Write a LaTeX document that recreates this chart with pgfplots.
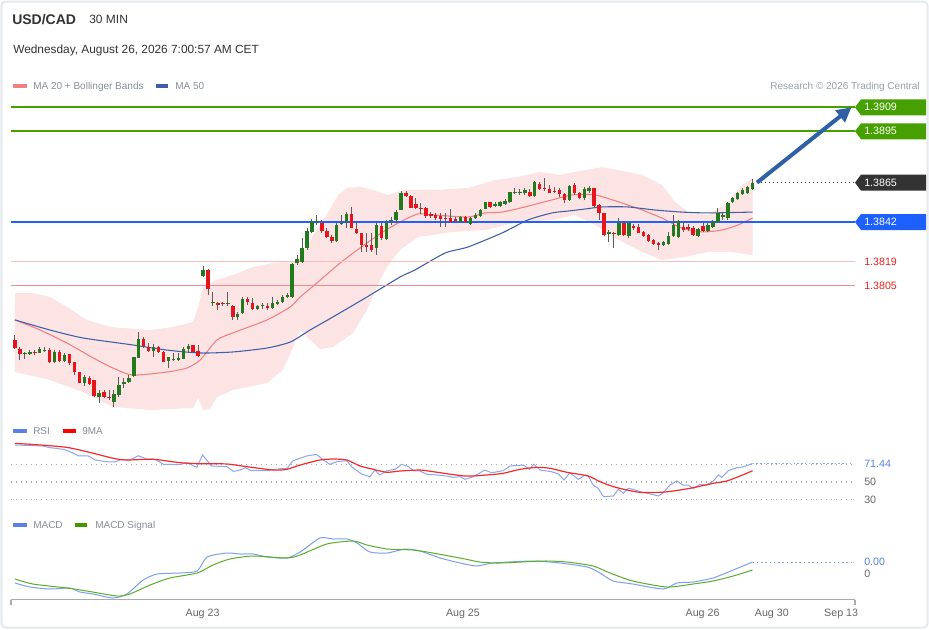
\documentclass[border=0pt]{standalone}
\usepackage{pgfplots}
\pgfplotsset{compat=1.18}
\usepackage{pgfplotstable}
\usepackage{fontspec}
\setmainfont{Liberation Sans}
\usetikzlibrary{arrows.meta}

\definecolor{hdr}{HTML}{333333}
\definecolor{leg}{HTML}{858E98}
\definecolor{bordergray}{HTML}{E6EAED}
\definecolor{bandpink}{HTML}{FDE4E4}
\definecolor{ma20c}{HTML}{F28080}
\definecolor{ma50c}{HTML}{3D5FA8}
\definecolor{lvgreen}{HTML}{46A000}
\definecolor{lvblue}{HTML}{1E5FFF}
\definecolor{lvred}{HTML}{E82020}
\definecolor{lvdark}{HTML}{333333}
\definecolor{arrowblue}{HTML}{2F60A6}
\definecolor{cgreen}{HTML}{217A1C}
\definecolor{cred}{HTML}{E5161B}
\definecolor{wick}{HTML}{5E5A5A}
\definecolor{rsic}{HTML}{8CA6F0}
\definecolor{rsileg}{HTML}{5B80E6}
\definecolor{ninema}{HTML}{F52A2A}
\definecolor{macdc}{HTML}{7E9EF0}
\definecolor{sigc}{HTML}{5AAE28}
\definecolor{sigleg}{HTML}{3F9A00}
\definecolor{dotgray}{HTML}{AAAAAA}
\definecolor{axgray}{HTML}{AAAAAA}
\definecolor{ticktxt}{HTML}{666666}

% candles: i open high low close (rising candles)
\pgfplotstableread{
i o h l c
2 1.37649 1.37661 1.37620 1.37655
3 1.37649 1.37672 1.37643 1.37661
5 1.37655 1.37690 1.37655 1.37678
6 1.37667 1.37690 1.37661 1.37672
8 1.37602 1.37672 1.37597 1.37661
10 1.37608 1.37655 1.37602 1.37643
14 1.37480 1.37526 1.37462 1.37515
17 1.37398 1.37439 1.37363 1.37421
20 1.37369 1.37439 1.37340 1.37415
21 1.37410 1.37515 1.37398 1.37468
22 1.37474 1.37509 1.37451 1.37486
23 1.37486 1.37526 1.37480 1.37509
24 1.37521 1.37632 1.37515 1.37632
25 1.37626 1.37778 1.37626 1.37737
28 1.37667 1.37708 1.37632 1.37690
31 1.37608 1.37632 1.37567 1.37632
32 1.37614 1.37655 1.37608 1.37620
33 1.37614 1.37655 1.37608 1.37626
34 1.37620 1.37690 1.37620 1.37678
35 1.37678 1.37708 1.37655 1.37696
38 1.38105 1.38163 1.38099 1.38140
40 1.37947 1.38011 1.37930 1.37953
43 1.37941 1.38011 1.37930 1.37947
45 1.37865 1.37894 1.37848 1.37883
46 1.37889 1.37982 1.37883 1.37970
49 1.37912 1.37935 1.37906 1.37930
50 1.37930 1.37947 1.37912 1.37935
52 1.37918 1.37982 1.37912 1.37947
53 1.37941 1.37965 1.37935 1.37953
54 1.37953 1.37994 1.37947 1.37982
55 1.37982 1.38005 1.37976 1.37994
56 1.37982 1.38181 1.37976 1.38175
57 1.38181 1.38227 1.38169 1.38204
58 1.38186 1.38327 1.38181 1.38268
59 1.38268 1.38385 1.38257 1.38367
60 1.38362 1.38438 1.38356 1.38420
61 1.38420 1.38461 1.38403 1.38426
65 1.38309 1.38414 1.38303 1.38403
66 1.38408 1.38461 1.38403 1.38414
67 1.38420 1.38478 1.38385 1.38467
73 1.38268 1.38414 1.38227 1.38403
75 1.38321 1.38432 1.38315 1.38414
76 1.38426 1.38449 1.38403 1.38432
77 1.38432 1.38490 1.38414 1.38478
78 1.38490 1.38601 1.38490 1.38589
90 1.38420 1.38455 1.38414 1.38449
92 1.38408 1.38449 1.38403 1.38443
93 1.38443 1.38473 1.38438 1.38461
94 1.38455 1.38496 1.38449 1.38490
95 1.38496 1.38537 1.38496 1.38537
97 1.38514 1.38537 1.38508 1.38525
98 1.38514 1.38543 1.38508 1.38537
99 1.38525 1.38554 1.38519 1.38543
100 1.38537 1.38595 1.38531 1.38595
101 1.38589 1.38619 1.38584 1.38595
102 1.38589 1.38613 1.38578 1.38595
103 1.38589 1.38619 1.38578 1.38607
105 1.38572 1.38660 1.38566 1.38654
112 1.38549 1.38636 1.38543 1.38630
115 1.38560 1.38625 1.38549 1.38613
116 1.38601 1.38630 1.38589 1.38619
120 1.38350 1.38373 1.38303 1.38362
122 1.38344 1.38443 1.38338 1.38414
124 1.38338 1.38420 1.38327 1.38414
131 1.38286 1.38309 1.38280 1.38303
132 1.38292 1.38362 1.38286 1.38338
133 1.38338 1.38461 1.38332 1.38403
134 1.38332 1.38432 1.38327 1.38426
138 1.38338 1.38385 1.38332 1.38379
140 1.38367 1.38414 1.38362 1.38403
141 1.38391 1.38432 1.38385 1.38420
142 1.38420 1.38502 1.38420 1.38473
143 1.38449 1.38473 1.38432 1.38461
144 1.38443 1.38537 1.38432 1.38531
145 1.38537 1.38566 1.38531 1.38560
146 1.38554 1.38595 1.38549 1.38589
147 1.38584 1.38619 1.38578 1.38607
148 1.38589 1.38630 1.38584 1.38625
149 1.38613 1.38671 1.38607 1.38648
}\upcandles

% falling candles
\pgfplotstableread{
i o h l c
0 1.37731 1.37760 1.37678 1.37684
1 1.37678 1.37690 1.37614 1.37649
4 1.37661 1.37672 1.37643 1.37655
7 1.37672 1.37684 1.37597 1.37602
9 1.37661 1.37672 1.37602 1.37608
11 1.37649 1.37649 1.37585 1.37597
12 1.37602 1.37602 1.37526 1.37544
13 1.37544 1.37544 1.37480 1.37480
15 1.37509 1.37521 1.37468 1.37474
16 1.37497 1.37497 1.37398 1.37404
18 1.37427 1.37439 1.37392 1.37398
19 1.37398 1.37439 1.37380 1.37392
26 1.37737 1.37748 1.37684 1.37696
27 1.37690 1.37713 1.37661 1.37667
29 1.37690 1.37696 1.37655 1.37661
30 1.37661 1.37667 1.37602 1.37602
36 1.37702 1.37702 1.37655 1.37661
37 1.37667 1.37702 1.37632 1.37637
39 1.38140 1.38146 1.37994 1.38029
41 1.37947 1.37953 1.37906 1.37935
42 1.37947 1.37953 1.37930 1.37941
44 1.37930 1.37935 1.37848 1.37865
47 1.37970 1.37982 1.37935 1.37953
48 1.37947 1.37976 1.37906 1.37912
51 1.37930 1.37947 1.37906 1.37918
62 1.38414 1.38432 1.38356 1.38367
63 1.38367 1.38385 1.38327 1.38332
64 1.38332 1.38344 1.38297 1.38309
68 1.38467 1.38508 1.38385 1.38385
69 1.38379 1.38420 1.38350 1.38356
70 1.38356 1.38356 1.38245 1.38286
71 1.38286 1.38356 1.38245 1.38274
72 1.38286 1.38356 1.38245 1.38257
74 1.38397 1.38414 1.38315 1.38327
79 1.38589 1.38601 1.38566 1.38572
80 1.38572 1.38578 1.38502 1.38502
81 1.38525 1.38560 1.38496 1.38502
82 1.38502 1.38531 1.38467 1.38496
83 1.38502 1.38508 1.38443 1.38455
84 1.38467 1.38478 1.38443 1.38455
85 1.38461 1.38473 1.38432 1.38443
86 1.38455 1.38473 1.38391 1.38438
87 1.38443 1.38473 1.38391 1.38438
88 1.38443 1.38496 1.38414 1.38420
89 1.38438 1.38449 1.38420 1.38426
91 1.38449 1.38455 1.38414 1.38420
96 1.38537 1.38537 1.38502 1.38508
104 1.38595 1.38613 1.38566 1.38572
106 1.38642 1.38654 1.38607 1.38613
107 1.38619 1.38677 1.38601 1.38613
108 1.38613 1.38636 1.38589 1.38589
109 1.38601 1.38625 1.38589 1.38595
110 1.38607 1.38619 1.38566 1.38584
111 1.38584 1.38589 1.38531 1.38549
113 1.38636 1.38648 1.38578 1.38589
114 1.38589 1.38595 1.38554 1.38560
117 1.38619 1.38619 1.38508 1.38514
118 1.38519 1.38525 1.38432 1.38473
119 1.38473 1.38473 1.38338 1.38344
121 1.38356 1.38362 1.38268 1.38350
123 1.38414 1.38420 1.38338 1.38344
125 1.38397 1.38408 1.38373 1.38385
126 1.38391 1.38408 1.38356 1.38356
127 1.38362 1.38367 1.38332 1.38338
128 1.38344 1.38350 1.38303 1.38309
129 1.38315 1.38321 1.38286 1.38292
130 1.38297 1.38303 1.38257 1.38286
135 1.38391 1.38420 1.38362 1.38373
136 1.38391 1.38408 1.38367 1.38379
137 1.38385 1.38397 1.38338 1.38344
139 1.38397 1.38414 1.38362 1.38367
}\downcandles

\newcommand{\lbl}{\fontsize{8pt}{9.6pt}\selectfont}
\newcommand{\legf}{\fontsize{7.5pt}{9pt}\selectfont}
% #1 = position in pips above 1.3800, #2 = price text, #3 = colour
\newcommand{\pricebox}[3]{%
  \fill[#3] (axis cs:169.7,#1) -- ++(4.5pt,6pt) -- ++(48.75pt,0pt) -- ++(0pt,-12pt) -- ++(-48.75pt,0pt) -- cycle;
  \node[anchor=west, text=white, font=\lbl, inner sep=0pt] at ([xshift=6.75pt]axis cs:169.7,#1) {#2};%
}
\pgfplotsset{candle/.style 2 args={draw=none, mark=none, forget plot,
  error bars/.cd, y dir=plus, y explicit, error mark=none,
  error bar style={line width=#1, draw=#2, solid}}}

\begin{document}
\begin{tikzpicture}[x=0.75pt,y=-0.75pt]
\path[use as bounding box] (0,0) rectangle (929,629);
\fill[white] (0,0) rectangle (929,629);
\draw[bordergray, line width=1.5pt, rounded corners=3pt] (1.5,1.5) rectangle (927.5,627.5);

% ---------------- main price panel (plotted in pips above 1.3800) ----------------
\begin{axis}[at={(8.25pt,-311.25pt)}, anchor=south west, scale only axis,
  width=633pt, height=240pt,
  xmin=-0.808, xmax=169.7, ymin=-70.71, ymax=116.17,
  y filter/.expression={(y-1.38)*10000},
  hide axis, clip=false]

\addplot[fill=bandpink, draw=none] coordinates {
(0,1.38005) (3.6,1.38005) (7.1,1.37982) (10.5,1.37924) (14.5,1.37848) (19.2,1.37807)
(27.3,1.37789) (31.9,1.37807) (36.0,1.37836) (37.0,1.37924) (38.0,1.38040) (40.8,1.38081)
(44.0,1.38111) (48.1,1.38157) (52.1,1.38181) (54.1,1.38186) (56.6,1.38186) (58.6,1.38257)
(60.0,1.38332) (63.2,1.38473) (65.3,1.38578) (67.1,1.38619) (69.7,1.38625) (72.3,1.38607)
(75.2,1.38578) (78.8,1.38607) (84.8,1.38607) (91.5,1.38619) (97.0,1.38665) (101.6,1.38683)
(106.1,1.38712) (110.1,1.38695) (113.1,1.38712) (118.6,1.38741) (126.7,1.38695) (130.7,1.38636)
(133.3,1.38537) (136.0,1.38478) (140.0,1.38461) (143.4,1.38519) (146.9,1.38636) (149,1.38677)
(149,1.38227) (144.8,1.38245) (140.0,1.38245) (135.4,1.38216) (130.7,1.38198) (126.7,1.38245)
(121.2,1.38327) (117.2,1.38403) (113.1,1.38461) (108.5,1.38432) (101.6,1.38420) (94.9,1.38373)
(88.3,1.38362) (81.4,1.38332) (77.8,1.38257) (75.8,1.38186) (73.7,1.38081) (71.1,1.37906)
(68.3,1.37772) (64.2,1.37690) (61.6,1.37678) (59.6,1.37731) (57.6,1.37789) (56.2,1.37690)
(54.1,1.37556) (50.9,1.37480) (44.0,1.37439) (40.8,1.37398) (39.4,1.37328) (38.0,1.37322)
(37.0,1.37392) (36.0,1.37334) (27.3,1.37322) (19.8,1.37340) (13.7,1.37427) (7.1,1.37497)
(0,1.37544)} -- cycle;

% MA 20
\addplot[ma20c, line width=0.8pt, smooth, tension=0.4] coordinates {
(0,1.37848)(5.1,1.37789)(10.5,1.37713)(15.8,1.37626)(19.8,1.37567)(23.8,1.37526)(30.7,1.37544)
(34.7,1.37567)(37.4,1.37614)(40.8,1.37731)(44.0,1.37772)(50.9,1.37848)(55.6,1.37924)(57.6,1.37982)
(61.0,1.38064)(65.7,1.38181)(69.7,1.38268)(74.3,1.38362)(77.8,1.38420)(81.4,1.38467)(84.8,1.38461)
(91.5,1.38449)(94.9,1.38473)(98.4,1.38478)(103.0,1.38508)(108.5,1.38549)(112.5,1.38578)(117.2,1.38578)
(122.0,1.38537)(126.7,1.38490)(130.7,1.38443)(134.7,1.38385)(138.8,1.38362)(142.8,1.38373)
(146.1,1.38403)(149,1.38443)};
% MA 50
\addplot[ma50c, line width=0.8pt, smooth, tension=0.4] coordinates {
(0,1.37848)(7.1,1.37789)(13.7,1.37743)(23.8,1.37702)(30.7,1.37672)(37.4,1.37655)(44.0,1.37661)
(50.9,1.37684)(55.6,1.37719)(59.6,1.37789)(64.2,1.37865)(71.1,1.37982)(77.8,1.38099)(80.8,1.38140)
(86.9,1.38239)(91.5,1.38274)(98.4,1.38356)(103.6,1.38432)(108.5,1.38473)(111.7,1.38484)(115.2,1.38496)
(118.6,1.38508)(123.8,1.38508)(129.3,1.38490)(134.7,1.38478)(140.0,1.38473)(149,1.38478)};

% level lines (1.3819 and 1.3805 are pink support lines)
\draw[draw={rgb,255:red,248;green,190;blue,190}, line width=1.3pt] (axis cs:-0.808,19) -- (axis cs:169.7,19);
\draw[draw={rgb,255:red,242;green,140;blue,140}, line width=1.1pt] (axis cs:-0.808,5) -- (axis cs:169.7,5);
\addplot[color=lvblue, line width=1.3pt] coordinates {(-0.808,1.3842) (169.7,1.3842)};
\addplot[color=lvgreen, line width=1.5pt] coordinates {(-0.808,1.3895) (169.7,1.3895)};
\addplot[color=lvgreen, line width=1.5pt] coordinates {(-0.808,1.3909) (169.7,1.3909)};
\addplot[color=lvdark, line width=0.8pt, dash pattern=on 0.8pt off 2.2pt] coordinates {(149.9,1.3865) (169.7,1.3865)};

% wicks
\addplot[candle={0.75pt}{wick}]
  table[x=i, y=l, y error plus expr={(\thisrow{h}-\thisrow{l})*10000}] {\upcandles};
\addplot[candle={0.75pt}{wick}]
  table[x=i, y=l, y error plus expr={(\thisrow{h}-\thisrow{l})*10000}] {\downcandles};
% bodies
\addplot[candle={2.6pt}{cgreen}]
  table[x=i, y=o, y error plus expr={max((\thisrow{c}-\thisrow{o})*10000,0.5)}] {\upcandles};
\addplot[candle={2.6pt}{cred}]
  table[x=i, y=c, y error plus expr={max((\thisrow{o}-\thisrow{c})*10000,0.5)}] {\downcandles};

% target arrow (1.3865 -> 1.3909)
\draw[arrowblue, line width=3pt, -{Triangle[length=11pt, width=11pt]}]
  (axis cs:149.9,65) -- (axis cs:169.0,109);

% right-hand labels
\pricebox{109}{1.3909}{lvgreen}
\pricebox{95}{1.3895}{lvgreen}
\pricebox{65}{1.3865}{lvdark}
\pricebox{42}{1.3842}{lvblue}
\node[anchor=west, text=lvred, font=\lbl, inner sep=0pt] at ([xshift=6.75pt]axis cs:169.7,19) {1.3819};
\node[anchor=west, text=lvred, font=\lbl, inner sep=0pt] at ([xshift=6.75pt]axis cs:169.7,5) {1.3805};
\end{axis}

% ---------------- RSI panel ----------------
\begin{axis}[at={(8.25pt,-378.75pt)}, anchor=south west, scale only axis,
  width=633pt, height=50.25pt,
  xmin=-0.808, xmax=169.7, ymin=23.47, ymax=100.75,
  hide axis, clip=false]
\addplot[dotgray, line width=0.8pt, dash pattern=on 0.75pt off 3pt] coordinates {(-0.808,70) (169.29,70)};
\addplot[dotgray, line width=0.8pt, dash pattern=on 0.75pt off 3pt] coordinates {(-0.808,50) (169.29,50)};
\addplot[dotgray, line width=0.8pt, dash pattern=on 0.75pt off 3pt] coordinates {(-0.808,30) (169.29,30)};
\addplot[rsic, line width=0.7pt, dash pattern=on 1.2pt off 1.6pt] coordinates {(149,71.44) (169.29,71.44)};
\addplot[rsic, line width=0.75pt] coordinates {
(0,92.7)(5.7,91.5)(7.1,89.6)(9.8,87.7)(11.1,85.0)(12.8,80.3)(14.8,80.0)(16.2,75.4)(18.5,73.4)
(20.2,73.1)(21.2,75.4)(23.2,75.4)(24.9,80.3)(26.6,76.5)(28.3,76.2)(30.0,70.4)(33.3,70.0)(34.7,72.3)
(36.7,66.9)(37.9,81.1)(39.7,68.5)(42.8,67.7)(44.1,62.3)(45.5,63.8)(46.5,66.5)(47.8,63.0)(50.8,63.0)
(53.5,65.3)(54.9,65.3)(56.2,74.6)(58.9,80.0)(60.9,81.9)(62.3,75.4)(63.6,70.4)(65.0,73.4)(67.0,74.6)
(68.0,67.7)(70.0,59.2)(71.7,56.1)(72.7,63.8)(73.7,58.1)(75.1,63.0)(76.8,64.6)(78.1,70.4)(79.5,67.7)
(80.5,63.0)(81.8,62.7)(83.2,58.9)(85.2,58.1)(87.2,56.9)(88.5,55.4)(89.9,56.1)(90.9,53.1)(92.6,56.1)
(94.9,63.8)(96.3,60.7)(98.6,63.0)(100.0,68.5)(102.7,69.6)(103.9,64.6)(104.8,70.4)(106.1,63.8)
(108.4,61.9)(109.8,59.2)(110.9,52.3)(112.1,60.7)(113.8,53.1)(115.2,58.1)(115.8,56.9)(116.8,46.5)
(117.8,42.7)(118.9,33.0)(120.9,33.9)(121.9,41.6)(122.9,37.0)(123.9,42.7)(124.9,41.6)(126.3,38.8)
(128.3,36.2)(130.0,33.9)(131.0,37.7)(132.3,46.5)(133.7,51.2)(134.9,46.5)(136.0,46.5)(137.0,42.7)
(138.4,47.3)(139.7,46.5)(141.1,51.2)(142.1,58.1)(142.8,55.4)(144.1,63.0)(145.8,66.5)(147.1,67.3)
(149,71.44)};
\addplot[ninema, line width=0.9pt, smooth, tension=0.4] coordinates {
(0,94.6)(5.1,92.7)(10.4,90.0)(14.5,85.0)(19.9,77.3)(22.6,75.4)(27.9,76.2)(33.3,72.3)(37.4,71.1)
(42.8,70.8)(46.8,67.7)(52.2,63.8)(54.9,64.6)(57.6,69.6)(61.6,75.4)(64.3,76.5)(67.0,75.4)(69.7,68.5)
(72.4,64.6)(75.1,61.2)(77.8,62.7)(81.8,63.8)(84.5,61.9)(90.9,56.9)(95.3,58.1)(98.6,60.0)(102.0,64.6)
(105.4,66.9)(108.1,65.8)(111.5,61.2)(115.8,56.9)(118.2,50.3)(120.9,44.6)(123.6,40.8)(126.3,38.1)
(130.3,38.1)(133.0,39.6)(137.0,43.4)(141.1,48.5)(143.8,51.2)(146.5,56.9)(149,63.0)};
\node[anchor=west, text=rsileg, font=\lbl, inner sep=0pt] at ([xshift=6.75pt]axis cs:169.7,71.44) {71.44};
\node[anchor=west, text=ticktxt, font=\lbl, inner sep=0pt] at ([xshift=6.75pt]axis cs:169.7,50) {50};
\node[anchor=west, text=ticktxt, font=\lbl, inner sep=0pt] at ([xshift=6.75pt]axis cs:169.7,30) {30};
\end{axis}

% ---------------- MACD panel ----------------
\begin{axis}[at={(8.25pt,-449.625pt)}, anchor=south west, scale only axis,
  width=633pt, height=52.125pt,
  xmin=-0.808, xmax=169.7, ymin=-0.00051, ymax=0.00088,
  axis x line*=bottom, axis y line=none,
  x axis line style={draw=axgray, line width=1pt},
  xtick={37.9,90.5,138.9,152.9,166.9},
  xticklabels={Aug 23,Aug 25,Aug 26,Aug 30,Sep 13},
  major tick length=0pt,
  xticklabel style={anchor=base, yshift=-12.75pt, font=\lbl, text=ticktxt, inner sep=0pt},
  clip=false]
\addplot[macdc, line width=0.7pt, dash pattern=on 1.2pt off 2pt] coordinates {(149,0.00024) (169.29,0.00024)};
\addplot[macdc, line width=0.75pt, smooth, tension=0.4] coordinates {
(0,-0.00018)(3.0,-0.00026)(7.1,-0.00030)(11.1,-0.00028)(13.1,-0.00036)(15.8,-0.00040)(19.8,-0.00048)
(22.6,-0.00040)(25.9,-0.00012)(28.7,0)(33.3,0.00002)(36.8,0.00006)(38.8,0.00034)(42.8,0.00042)
(45.5,0.00040)(48.1,0.00040)(50.9,0.00034)(54.9,0.00032)(57.6,0.00044)(61.6,0.00072)(64.2,0.00070)
(67.1,0.00070)(69.1,0.00062)(71.7,0.00044)(75.2,0.00042)(78.8,0.00050)(81.8,0.00046)(85.9,0.00032)
(89.9,0.00022)(93.3,0.00016)(96.6,0.00022)(104.6,0.00026)(110.1,0.00022)(115.6,0.00014)(118.2,0.00002)
(120.8,-0.00014)(124.8,-0.00020)(130.9,-0.00030)(133.7,-0.00018)(137.0,-0.00016)(141.0,-0.00008)
(145.1,0.00008)(149,0.00024)};
\addplot[sigc, line width=0.75pt, smooth, tension=0.4] coordinates {
(0,-0.00010)(3.6,-0.00020)(10.5,-0.00028)(14.5,-0.00034)(20.6,-0.00044)(23.2,-0.00040)(27.3,-0.00022)
(31.3,-0.00008)(36.8,0.00002)(40.0,0.00018)(43.4,0.00030)(48.1,0.00036)(54.9,0.00032)(57.6,0.00038)
(63.0,0.00060)(68.3,0.00066)(71.1,0.00058)(75.2,0.00050)(80.4,0.00048)(84.4,0.00042)(90.9,0.00030)
(93.9,0.00024)(98.0,0.00022)(106.7,0.00026)(111.5,0.00024)(116.8,0.00016)(120.2,0.00002)
(124.8,-0.00014)(131.7,-0.00026)(137.0,-0.00020)(141.0,-0.00014)(145.1,-0.00004)(149,0.00008)};
\draw[axgray, line width=1pt] (axis cs:-0.808,-0.00051) -- ++(0pt,-4pt);
\draw[axgray, line width=1pt] (axis cs:169.7,-0.00051) -- ++(0pt,-4pt);
\node[anchor=west, text=rsileg, font=\lbl, inner sep=0pt] at ([xshift=6.75pt]axis cs:169.7,0.00024) {0.00};
\node[anchor=west, text=ticktxt, font=\lbl, inner sep=0pt] at ([xshift=6.75pt]axis cs:169.7,0) {0};
\end{axis}

% ---------------- header and legends ----------------
\node[anchor=base west, inner sep=0pt, text=hdr, font=\bfseries\fontsize{10.5pt}{12pt}\selectfont] at (12,24.3) {USD/CAD};
\node[anchor=base west, inner sep=0pt, text=hdr, font=\fontsize{9pt}{11pt}\selectfont] at (89,23.3) {30 MIN};
\node[anchor=base west, inner sep=0pt, text=hdr, font=\fontsize{8.9pt}{11pt}\selectfont] at (13,53.5) {Wednesday, August 26, 2026 7:00:57 AM CET};

\fill[ma20c] (13,84.3) rectangle (27,88.3);
\node[anchor=base west, inner sep=0pt, text=leg, font=\legf] at (33,89.7) {MA 20 + Bollinger Bands};
\fill[ma50c] (156,84.3) rectangle (168,88.3);
\node[anchor=base west, inner sep=0pt, text=leg, font=\legf] at (175,89.7) {MA 50};
\node[anchor=base east, inner sep=0pt, text=leg!85, font=\legf] at (920,89.7) {Research © 2026 Trading Central};

\fill[rsileg] (13,429) rectangle (27,433);
\node[anchor=base west, inner sep=0pt, text=leg, font=\legf] at (33,434.4) {RSI};
\fill[red] (63,429) rectangle (76,433);
\node[anchor=base west, inner sep=0pt, text=leg, font=\legf] at (82,434.4) {9MA};

\fill[rsileg] (13,523) rectangle (27,527);
\node[anchor=base west, inner sep=0pt, text=leg, font=\legf] at (33,528.4) {MACD};
\fill[sigleg] (75,523) rectangle (87,527);
\node[anchor=base west, inner sep=0pt, text=leg, font=\legf] at (95,528.4) {MACD Signal};
\end{tikzpicture}
\end{document}
